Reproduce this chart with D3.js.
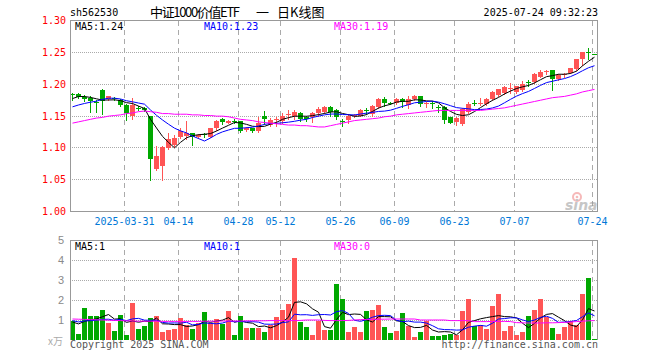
<!DOCTYPE html>
<html>
<head>
<meta charset="utf-8">
<script src="https://cdn.jsdelivr.net/npm/d3@7"></script>
<style>
  body { margin: 0; background: #fff; }
  svg { display: block; font-family: "DejaVu Sans Mono", monospace; font-size: 10px; }
</style>
</head>
<body>
<svg id="chart" width="660" height="360"></svg>
<script>
// trading days 2025-03-18 .. 2025-07-24
const dates = [
  '03-18','03-19','03-20','03-21','03-24','03-25','03-26','03-27','03-28','03-31',
  '04-01','04-02','04-03','04-07','04-08','04-09','04-10','04-11','04-14','04-15',
  '04-16','04-17','04-18','04-21','04-22','04-23','04-24','04-25','04-28','04-29',
  '04-30','05-06','05-07','05-08','05-09','05-12','05-13','05-14','05-15','05-16',
  '05-19','05-20','05-21','05-22','05-23','05-26','05-27','05-28','05-29','05-30',
  '06-03','06-04','06-05','06-06','06-09','06-10','06-11','06-12','06-13','06-16',
  '06-17','06-18','06-19','06-20','06-23','06-24','06-25','06-26','06-27','06-30',
  '07-01','07-02','07-03','07-04','07-07','07-08','07-09','07-10','07-11','07-14',
  '07-15','07-16','07-17','07-18','07-21','07-22','07-23','07-24'
];

const opens = [
  1.184,1.184,1.179,1.177,1.171,1.190,1.176,1.178,1.175,1.167,
  1.149,1.162,1.162,1.149,1.066,1.071,1.099,1.104,1.117,1.118,
  1.122,1.117,1.121,1.117,1.131,1.144,1.139,1.142,1.142,1.127,
  1.130,1.126,1.150,1.135,1.144,1.142,1.151,1.150,1.154,1.148,
  1.147,1.154,1.156,1.164,1.159,1.141,1.143,1.149,1.150,1.159,
  1.152,1.164,1.176,1.170,1.169,1.176,1.166,1.176,1.180,1.168,
  1.170,1.164,1.164,1.147,1.140,1.137,1.155,1.169,1.169,1.168,
  1.176,1.182,1.185,1.192,1.187,1.190,1.203,1.202,1.211,1.219,
  1.221,1.207,1.214,1.217,1.223,1.239,1.2495,1.2472
];
const highs = [
  1.185,1.185,1.182,1.180,1.174,1.191,1.181,1.179,1.176,1.168,
  1.178,1.165,1.164,1.150,1.102,1.102,1.123,1.119,1.131,1.141,
  1.123,1.121,1.122,1.131,1.143,1.146,1.143,1.144,1.142,1.132,
  1.131,1.147,1.157,1.146,1.147,1.154,1.159,1.158,1.155,1.149,
  1.155,1.163,1.165,1.165,1.160,1.144,1.153,1.153,1.160,1.162,
  1.166,1.177,1.179,1.171,1.177,1.177,1.181,1.182,1.181,1.171,
  1.173,1.166,1.165,1.148,1.148,1.161,1.171,1.174,1.178,1.177,
  1.189,1.192,1.196,1.201,1.197,1.204,1.206,1.216,1.222,1.221,
  1.221,1.215,1.217,1.225,1.239,1.250,1.256,1.2472
];
const lows = [
  1.175,1.177,1.173,1.155,1.155,1.152,1.175,1.175,1.165,1.143,
  1.144,1.158,1.157,1.048,1.064,1.048,1.098,1.100,1.115,1.113,
  1.103,1.115,1.117,1.116,1.127,1.136,1.138,1.139,1.124,1.126,
  1.124,1.124,1.136,1.134,1.134,1.138,1.145,1.145,1.142,1.142,
  1.140,1.150,1.154,1.149,1.144,1.134,1.139,1.147,1.149,1.153,
  1.150,1.162,1.165,1.168,1.168,1.163,1.162,1.175,1.165,1.163,
  1.162,1.155,1.139,1.138,1.135,1.135,1.154,1.167,1.167,1.166,
  1.175,1.181,1.184,1.186,1.186,1.189,1.197,1.201,1.210,1.215,
  1.190,1.206,1.211,1.216,1.222,1.230,1.239,1.247
];
const closes = [
  1.183,1.179,1.176,1.173,1.170,1.173,1.180,1.177,1.167,1.154,
  1.166,1.160,1.158,1.082,1.086,1.100,1.113,1.115,1.125,1.122,
  1.117,1.120,1.119,1.130,1.142,1.140,1.142,1.1415,1.126,1.131,
  1.125,1.139,1.144,1.143,1.145,1.149,1.152,1.155,1.144,1.144,
  1.154,1.160,1.164,1.155,1.147,1.140,1.150,1.151,1.158,1.158,
  1.165,1.176,1.169,1.1695,1.176,1.171,1.176,1.181,1.168,1.169,
  1.169,1.162,1.143,1.139,1.146,1.160,1.168,1.168,1.170,1.176,
  1.187,1.191,1.195,1.193,1.196,1.200,1.202,1.215,1.218,1.220,
  1.208,1.213,1.215,1.224,1.238,1.250,1.249,1.247
];
// 万手
const volumes = [
  0.97,0.32,1.62,1.18,1.18,1.52,0.87,0.47,1.27,0.27,
  1.87,0.57,0.72,1.12,1.22,0.42,0.52,0.57,1.12,0.75,
  0.55,0.85,1.42,0.85,1.05,0.80,1.47,0.27,1.22,0.62,
  0.62,0.62,0.42,0.77,1.17,1.52,1.82,4.12,0.92,0.67,
  0.27,0.97,0.52,0.52,2.82,2.07,0.42,0.67,0.42,1.47,
  1.52,1.77,0.67,0.37,0.47,1.37,0.72,0.17,0.42,0.97,
  0.22,0.22,0.27,0.32,0.27,1.47,2.07,0.72,0.77,0.57,
  1.72,2.32,0.47,0.72,0.27,0.42,1.22,1.52,2.07,1.17,
  0.62,0.32,0.67,0.97,0.77,2.32,3.12,0.07
];
// closes / volumes just before the window (needed for the short averages)
const priorCloses = [1.150,1.152,1.153,1.154,1.144,1.163,1.176,1.180,1.181];
const priorVolumes = [1.00,1.10,1.05,0.95,1.10,0.80,1.00,0.78,0.95];
// 30-day averages
const priceMa30 = [
  1.138,1.140,1.142,1.144,1.146,1.147,1.149,1.150,1.151,1.153,
  1.154,1.156,1.157,1.156,1.155,1.153,1.153,1.152,1.152,1.152,
  1.151,1.151,1.150,1.150,1.149,1.149,1.148,1.146,1.144,1.143,
  1.142,1.140,1.139,1.138,1.137,1.136,1.135,1.135,1.134,1.134,
  1.133,1.132,1.132,1.134,1.136,1.138,1.140,1.142,1.143,1.144,
  1.145,1.146,1.148,1.149,1.151,1.152,1.153,1.154,1.155,1.156,
  1.157,1.158,1.158,1.158,1.158,1.158,1.158,1.158,1.158,1.159,
  1.160,1.161,1.162,1.164,1.166,1.168,1.170,1.172,1.174,1.176,
  1.178,1.179,1.180,1.182,1.184,1.187,1.189,1.191
];
const volMa30 = [
  1.05,1.04,1.03,1.02,1.01,1.00,0.99,0.98,0.97,0.96,
  0.95,0.94,0.94,0.94,0.94,0.93,0.93,0.93,0.93,0.93,
  0.93,0.93,0.94,0.94,0.94,0.95,0.95,0.95,0.95,0.96,
  0.96,0.96,0.96,0.97,0.97,0.97,0.97,0.97,0.98,1.00,
  1.00,1.00,0.98,0.97,0.97,0.97,0.98,1.00,1.02,1.03,
  1.03,1.04,1.04,1.05,1.05,1.05,1.05,1.05,1.00,1.00,
  1.00,1.00,1.00,0.97,0.97,0.97,0.97,0.92,0.92,0.92,
  0.93,0.93,0.93,0.92,0.87,0.86,0.85,0.85,0.85,0.86,
  0.86,0.87,0.88,0.90,0.92,0.94,0.96,0.97
];

const priceTicks = [1.00, 1.05, 1.10, 1.15, 1.20, 1.25, 1.30];
const volTicks = [1, 2, 3, 4, 5];
const dateTicks = ['03-31','04-14','04-28','05-12','05-26','06-09','06-23','07-07','07-24'];
const dateTickLabels = ['2025-03-31','04-14','04-28','05-12','05-26','06-09','06-23','07-07','07-24'];

const RED = '#ff5555', GREEN = '#00a800';
const GRID = '#aaaaaa', BORDER = '#999999';

const main = { left: 70, right: 597, top: 20, bottom: 211 };
const vol = { top: 240, bottom: 340 };

const svg = d3.select('#chart');

const x = d3.scalePoint().domain(dates).range([72, 594]);
const y = d3.scaleLinear().domain([1.0, 1.3]).range([main.bottom, main.top]);
const yv = d3.scaleLinear().domain([0, 5]).range([vol.bottom, vol.top]);

function movingAverage(values, prior, n) {
  const all = prior.concat(values);
  return values.map((v, i) => {
    const end = prior.length + i + 1;
    return d3.mean(all.slice(Math.max(0, end - n), end));
  });
}

const ma5 = movingAverage(closes, priorCloses, 5);
const ma10 = movingAverage(closes, priorCloses, 10);
const vma5 = movingAverage(volumes, priorVolumes, 5);
const vma10 = movingAverage(volumes, priorVolumes, 10);

const candles = dates.map((d, i) => ({
  date: d, o: opens[i], h: highs[i], l: lows[i], c: closes[i], v: volumes[i],
  up: closes[i] >= opens[i]
}));

// ---- grid
const grid = svg.append('g').attr('shape-rendering', 'crispEdges');

grid.selectAll('.hgrid')
  .data(priceTicks.slice(1, -1))
  .join('line')
  .attr('x1', main.left).attr('x2', main.right)
  .attr('y1', d => Math.round(y(d)) + 0.5).attr('y2', d => Math.round(y(d)) + 0.5)
  .attr('stroke', GRID).attr('stroke-dasharray', '1,1');

grid.selectAll('.vhgrid')
  .data(volTicks.slice(0, -1))
  .join('line')
  .attr('x1', main.left).attr('x2', main.right)
  .attr('y1', d => Math.round(yv(d)) + 0.5).attr('y2', d => Math.round(yv(d)) + 0.5)
  .attr('stroke', GRID).attr('stroke-dasharray', '1,1');

const gx = d => Math.round(x(d)) - 1.5;

[[main.top, main.bottom], [vol.top, vol.bottom]].forEach(([t, b]) => {
  grid.append('g').selectAll('line')
    .data(dateTicks)
    .join('line')
    .attr('x1', gx).attr('x2', gx)
    .attr('y1', t + 1).attr('y2', b)
    .attr('stroke', GRID).attr('stroke-dasharray', '5,4');
});

// ---- candles
const cg = svg.append('g').attr('shape-rendering', 'crispEdges');
cg.selectAll('.wick')
  .data(candles)
  .join('line')
  .attr('x1', d => Math.round(x(d.date)) + 0.5).attr('x2', d => Math.round(x(d.date)) + 0.5)
  .attr('y1', d => Math.round(y(d.h))).attr('y2', d => Math.round(y(d.l)) + 1)
  .attr('stroke', d => d.up ? RED : GREEN);

cg.selectAll('.body')
  .data(candles)
  .join('rect')
  .attr('x', d => Math.round(x(d.date)) - 2)
  .attr('width', 5)
  .attr('y', d => Math.round(y(Math.max(d.o, d.c))))
  .attr('height', d => Math.max(1, Math.round(y(Math.min(d.o, d.c))) - Math.round(y(Math.max(d.o, d.c)))))
  .attr('fill', d => d.up ? RED : GREEN);

// ---- volume bars
cg.selectAll('.vbar')
  .data(candles)
  .join('rect')
  .attr('x', d => Math.round(x(d.date)) - 2)
  .attr('width', 5)
  .attr('y', d => Math.round(yv(d.v)))
  .attr('height', d => vol.bottom - Math.round(yv(d.v)))
  .attr('fill', d => d.up ? RED : GREEN);

// ---- moving averages
function drawLine(values, scale, color) {
  const line = d3.line()
    .x((d, i) => Math.round(x(dates[i])) + 0.5)
    .y(d => scale(d));
  svg.append('path')
    .datum(values)
    .attr('d', line)
    .attr('fill', 'none')
    .attr('stroke', color)
    .attr('stroke-width', 1);
}
drawLine(ma5, y, '#000000');
drawLine(ma10, y, '#0000ff');
drawLine(priceMa30, y, '#ff00ff');
drawLine(vma5, yv, '#000000');
drawLine(vma10, yv, '#0000ff');
drawLine(volMa30, yv, '#ff00ff');

// ---- frames
const frame = svg.append('g').attr('shape-rendering', 'crispEdges')
  .attr('fill', 'none').attr('stroke', BORDER);
frame.append('rect')
  .attr('x', main.left + 0.5).attr('y', main.top + 0.5)
  .attr('width', main.right - main.left).attr('height', main.bottom - main.top);
frame.append('path')
  .attr('d', `M${main.left + 0.5},${vol.bottom}V${vol.top + 0.5}H${main.right + 0.5}V${vol.bottom}`);

// ---- axes labels
svg.append('g').selectAll('text')
  .data(priceTicks)
  .join('text')
  .attr('x', 66).attr('y', d => y(d) + 4)
  .attr('text-anchor', 'end').attr('fill', '#ff0000')
  .text(d => d.toFixed(2));

svg.append('g').selectAll('text')
  .data(volTicks)
  .join('text')
  .attr('x', 64).attr('y', d => yv(d) + 4)
  .attr('text-anchor', 'end').attr('fill', '#8a8a8a')
  .style('font-family', '"Liberation Sans", Arial, sans-serif').style('font-size', '11px')
  .text(d => d);

svg.append('text')
  .attr('x', 63).attr('y', 345).attr('text-anchor', 'end')
  .attr('fill', '#aaaaaa')
  .style('font-family', '"Noto Sans CJK SC", sans-serif').style('font-size', '10px')
  .text('x万');

svg.append('g').selectAll('text')
  .data(dateTicks)
  .join('text')
  .attr('x', d => gx(d)).attr('y', 225)
  .attr('text-anchor', 'middle').attr('fill', '#0078d7')
  .text((d, i) => dateTickLabels[i]);

// ---- header
svg.append('text').attr('x', 70).attr('y', 16).attr('fill', '#000').text('sh562530');
const title = svg.append('text').attr('y', 17).attr('fill', '#000')
  .style('font-family', '"Noto Sans CJK SC", sans-serif').style('font-size', '13px');
title.append('tspan').attr('x', 150).attr('textLength', 90).text('中证1000价值ETF');
title.append('tspan').attr('x', 256).text('一');
title.append('tspan').attr('x', 277).text('日K线图');
svg.append('text').attr('x', 598).attr('y', 16).attr('text-anchor', 'end').attr('fill', '#000')
  .text('2025-07-24 09:32:23');

// ---- legends
const last = arr => arr[arr.length - 1];
const legend = [
  { x: 75, color: '#000000', p: 'MA5:' + last(ma5).toFixed(2), v: 'MA5:' + Math.floor(last(vma5)) },
  { x: 204, color: '#0000ff', p: 'MA10:' + last(ma10).toFixed(2), v: 'MA10:' + Math.floor(last(vma10)) },
  { x: 334, color: '#ff00ff', p: 'MA30:' + last(priceMa30).toFixed(2), v: 'MA30:' + Math.floor(last(volMa30)) }
];
legend.forEach(l => {
  svg.append('text').attr('x', l.x).attr('y', 29.5).attr('fill', l.color).text(l.p);
  svg.append('text').attr('x', l.x).attr('y', 249.5).attr('fill', l.color).text(l.v);
});

// ---- footer
svg.append('text').attr('x', 70).attr('y', 348).attr('fill', '#555').text('Copyright 2025 SINA.COM');
svg.append('text').attr('x', 598).attr('y', 348).attr('text-anchor', 'end').attr('fill', '#555')
  .text('http://finance.sina.com.cn');

// ---- watermark
const wm = svg.append('g').attr('opacity', 0.55);
wm.append('circle').attr('cx', 577).attr('cy', 197).attr('r', 4)
  .attr('fill', 'none').attr('stroke', '#f08080').attr('stroke-width', 2);
wm.append('circle').attr('cx', 577).attr('cy', 197).attr('r', 1.3).attr('fill', '#f08080');
wm.append('text').attr('x', 565).attr('y', 210).attr('fill', '#999')
  .style('font-family', '"DejaVu Sans", sans-serif').style('font-size', '14px')
  .style('font-weight', 'bold').style('font-style', 'italic')
  .text('sina');
</script>
</body>
</html>
